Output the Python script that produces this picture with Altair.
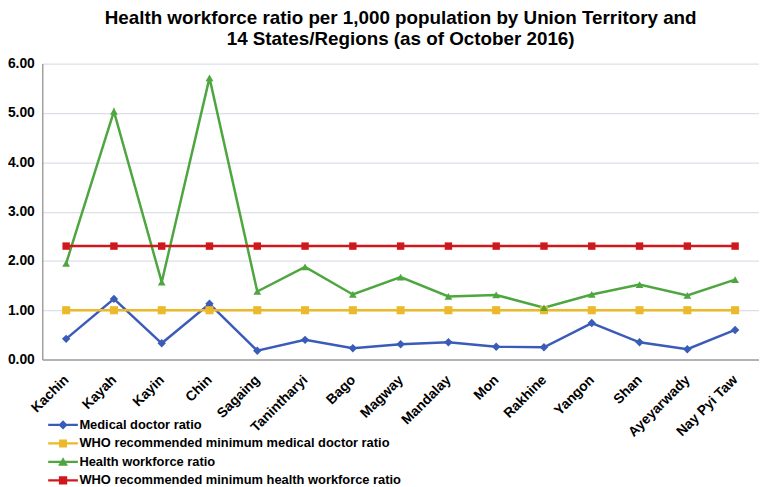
import altair as alt
import pandas as pd

regions = ["Kachin", "Kayah", "Kayin", "Chin", "Sagaing", "Tanintharyi", "Bago",
           "Magway", "Mandalay", "Mon", "Rakhine", "Yangon", "Shan", "Ayeyarwady",
           "Nay Pyi Taw"]
doctor_ratio = [0.42, 1.23, 0.33, 1.13, 0.18, 0.40, 0.23, 0.31, 0.35, 0.26, 0.25,
                0.74, 0.35, 0.21, 0.60]
who_doctor_min = [1.00, 1.00, 1.00, 1.00, 1.00, 1.00, 1.00, 1.00, 1.00, 1.00, 1.00,
                  1.00, 1.00, 1.00, 1.00]
health_ratio = [1.95, 5.03, 1.57, 5.71, 1.38, 1.88, 1.32, 1.67, 1.28, 1.31, 1.05,
                1.32, 1.52, 1.30, 1.62]
who_health_min = [2.30, 2.30, 2.30, 2.30, 2.30, 2.30, 2.30, 2.30, 2.30, 2.30, 2.30,
                  2.30, 2.30, 2.30, 2.30]

series_names = ["Medical doctor ratio",
                "WHO recommended minimum medical doctor ratio",
                "Health workforce ratio",
                "WHO recommended minimum health workforce ratio"]
series_values = [doctor_ratio, who_doctor_min, health_ratio, who_health_min]
series_colors = ["#3a5bb8", "#ebb92a", "#4ea63f", "#d0181c"]
series_shapes = ["diamond", "square", "triangle-up", "square"]
series_sizes = [72, 56, 72, 130]
series_widths = [2.5, 2.5, 2.5, 4]

rows = []
for name, vals in zip(series_names, series_values):
    for r, v in zip(regions, vals):
        rows.append({"series": name, "region": r, "value": v})
df = pd.DataFrame(rows)

FONT = "Liberation Sans"

# legend symbols: short line with the marker on it
bar = "M-3.75,-0.28H3.75V0.28H-3.75Z"
marker_paths = ["M0,-1.15L1.15,0L0,1.15L-1.15,0Z",
                "M-1,-1H1V1H-1Z",
                "M0,-1.2L1.25,0.95H-1.25Z",
                "M-1.05,-1.05H1.05V1.05H-1.05Z"]
legend_paths = [bar + p for p in marker_paths]

legend = alt.Legend(
    orient="none", legendX=14.5, legendY=358.5, title=None, padding=0,
    labelFont=FONT, labelFontSize=13, labelFontWeight="bold", labelColor="black",
    labelLimit=0, symbolSize=64, labelOffset=10, rowPadding=4.7, symbolStrokeWidth=0,
    symbolOpacity=1,
)

x = alt.X("region:N", sort=regions, title=None,
          axis=alt.Axis(labelAngle=-45, labelAlign="right", labelBaseline="middle",
                        labelFont=FONT, labelFontSize=14, labelFontWeight="bold",
                        labelColor="black", labelPadding=18, ticks=False,
                        domainColor="#a0a0a0", domainWidth=1.5, grid=False))
y = alt.Y("value:Q", title=None,
          scale=alt.Scale(domain=[0, 6], nice=False),
          axis=alt.Axis(values=[0, 1, 2, 3, 4, 5, 6], format=".2f",
                        labelFont=FONT, labelFontSize=14, labelFontWeight="bold",
                        labelColor="black", labelPadding=8, ticks=False,
                        domainColor="#a0a0a0", domainWidth=1.5,
                        grid=True, gridColor="#dedeea", gridWidth=1.2))

# legend carrier: no rows drawn, only supplies the legend
carrier = alt.Chart(df).transform_filter("false").mark_point(filled=True, opacity=1).encode(
    color=alt.Color("series:N", sort=series_names,
                    scale=alt.Scale(domain=series_names, range=series_colors), legend=legend),
    shape=alt.Shape("series:N", sort=series_names,
                    scale=alt.Scale(domain=series_names, range=legend_paths), legend=legend),
)

lines = alt.Chart(df).mark_line().encode(
    x=x, y=y,
    stroke=alt.Stroke("series:N", sort=series_names,
                      scale=alt.Scale(domain=series_names, range=series_colors), legend=None),
    strokeWidth=alt.StrokeWidth("series:N",
                                scale=alt.Scale(domain=series_names, range=series_widths), legend=None),
)

points = alt.Chart(df).mark_point(filled=True, opacity=1).encode(
    x=x, y=y,
    color=alt.Color("series:N", sort=series_names,
                    scale=alt.Scale(domain=series_names, range=series_colors), legend=None),
    shape=alt.Shape("series:N", scale=alt.Scale(domain=series_names, range=series_shapes), legend=None),
    size=alt.Size("series:N", scale=alt.Scale(domain=series_names, range=series_sizes), legend=None),
)

chart = alt.layer(carrier, lines, points).resolve_scale(
    color="independent", shape="independent"
).properties(
    width=724, height=299,
    autosize=alt.AutoSizeParams(type="none"),
    padding={"left": 34.6, "top": 53.7, "right": 0, "bottom": 128},
    title=alt.TitleParams(
        text=["Health workforce ratio per 1,000 population by Union Territory and",
              "14 States/Regions (as of October 2016)"],
        font=FONT, fontSize=19, fontWeight="bold", color="black",
        anchor="middle", frame="group", offset=8, lineHeight=21),
).configure_view(stroke=None)

chart.save("out.html", embed_options={"renderer": "svg", "actions": False})
